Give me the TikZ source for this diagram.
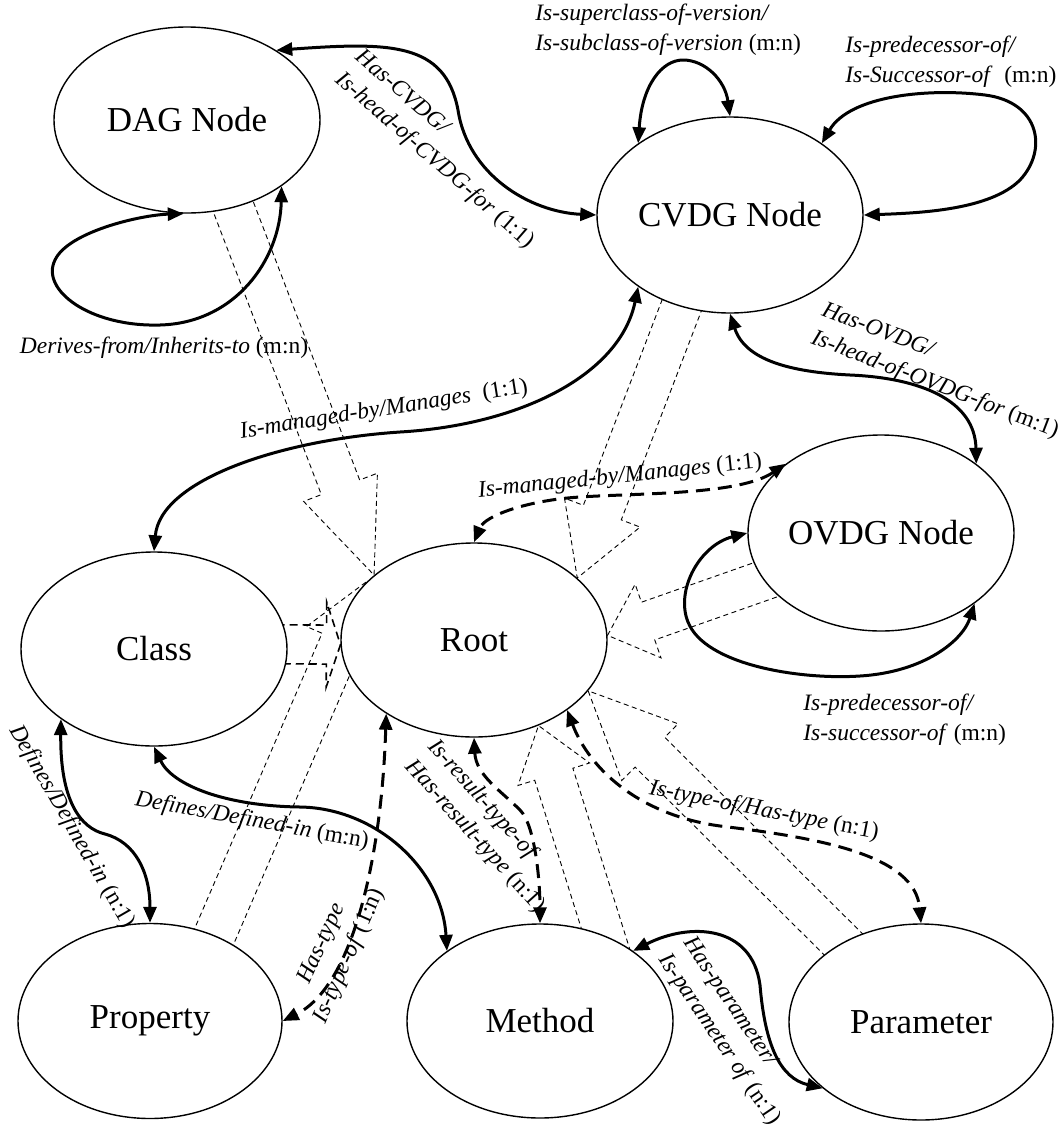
\documentclass[tikz,border=0pt]{standalone}
\usepackage{fontspec}
\setmainfont{Liberation Serif}
\usetikzlibrary{shapes.geometric,arrows.meta,calc,backgrounds}

\tikzset{
  entity/.style={ellipse,draw,line width=0.7pt,fill=white,inner sep=0pt,
    minimum width=133pt,minimum height=97pt,font=\fontsize{17.5}{21}\selectfont},
  rel/.style={line width=1.5pt,
    {Triangle[length=8pt,width=6.5pt]}-{Triangle[length=8pt,width=6.5pt]}},
  reldash/.style={rel,dash pattern=on 7pt off 4pt},
  lbl/.style={font=\fontsize{11.75}{15}\selectfont,inner sep=0pt},
  inherit/.style={draw,line width=0.45pt,dash pattern=on 2.5pt off 1.8pt,line join=miter},
}

% hollow block arrow: [extra style]{base anchor}{tip anchor}{shaft half width}{head half width}{head length}
\newcommand\inhArrow[6][]{%
  \coordinate (ia-s) at (#2);
  \coordinate (ia-t) at (#3);
  \coordinate (ia-b) at ($(ia-t)!#6!(ia-s)$);
  \coordinate (ia-o) at ($(ia-s)!-12pt!(ia-t)$);
  \draw[inherit,#1] ($(ia-o)!#4!90:(ia-t)$) -- ($(ia-b)!#4!90:(ia-t)$)
    -- ($(ia-b)!#5!90:(ia-t)$) -- (ia-t) -- ($(ia-b)!#5!-90:(ia-t)$)
    -- ($(ia-b)!#4!-90:(ia-t)$) -- ($(ia-o)!#4!-90:(ia-t)$) -- cycle;
}

\begin{document}
\begin{tikzpicture}[x=0.5pt,y=-0.5pt]
\useasboundingbox (0,0) rectangle (1063,1131);

% entities
\node[entity,minimum height=93pt] (dag) at (187,120) {DAG Node};
\node[entity,minimum height=98pt] (cvdg) at (730,215) {CVDG Node};
\node[entity,minimum height=98pt] (ovdg) at (881,533) {OVDG Node};
\node[entity] (class) at (154,649) {Class};
\node[entity] (root) at (474,640) {Root};
\node[entity,minimum width=132pt,minimum height=97.5pt] (property) at (150,1021) {Property};
\node[entity] (method) at (540,1021) {Method};
\node[entity,minimum width=132pt,minimum height=98pt] (parameter) at (921,1022) {Parameter};

% inheritance block arrows towards Root
\begin{pgfonlayer}{background}
\fill[white] (0,0) rectangle (1063,1131);
\inhArrow{dag.-62}{root.147}{10.25pt}{19.75pt}{47pt}
\inhArrow{cvdg.-118}{root.31}{10.15pt}{20.25pt}{35pt}
\inhArrow{ovdg.202}{root.2}{10pt}{19.5pt}{21.5pt}
\inhArrow[line width=0.8pt,dash pattern=on 4pt off 2.5pt]{class.2}{root.182}{9.75pt}{21.25pt}{7pt}
\inhArrow{property.53}{root.151}{10.5pt}{19pt}{33pt}
\inhArrow{method.53}{root.-53}{10pt}{18.75pt}{25.5pt}
\inhArrow{parameter.135}{root.-24}{10.5pt}{20pt}{43.5pt}
\end{pgfonlayer}

% relationships
\draw[rel] (dag.38) .. controls (390,42) and (445,42) .. (458,110)
  .. controls (468,175) and (530,212) .. (cvdg.west);
\draw[rel] (dag.-35) .. controls (280,260) and (235,323) .. (160,325)
  .. controls (90,327) and (40,290) .. (55,260)
  .. controls (68,232) and (140,215) .. (dag.-92);
\draw[rel] (cvdg.142) .. controls (642,85) and (662,60) .. (683,60)
  .. controls (705,60) and (725,80) .. (cvdg.north);
\draw[rel] (cvdg.38) .. controls (850,95) and (930,88) .. (985,95)
  .. controls (1040,102) and (1048,150) .. (1020,180)
  .. controls (990,210) and (920,213) .. (cvdg.east);
\draw[rel] (cvdg.218) .. controls (620,375) and (520,425) .. (400,432)
  .. controls (280,440) and (160,480) .. (class.north);
\draw[reldash] (ovdg.144) .. controls (740,495) and (640,493) .. (580,497)
  .. controls (530,500) and (485,515) .. (root.north);
\draw[rel] (cvdg.south) .. controls (745,360) and (790,372) .. (850,375)
  .. controls (920,378) and (975,400) .. (ovdg.36);
\draw[rel] (ovdg.west) .. controls (700,545) and (675,590) .. (688,622)
  .. controls (705,665) and (800,680) .. (860,676)
  .. controls (925,672) and (963,640) .. (ovdg.-37);
\draw[rel] (class.217) .. controls (60,800) and (80,828) .. (105,834)
  .. controls (135,842) and (150,872) .. (property.north);
\draw[rel] (class.south) .. controls (172,785) and (225,806) .. (300,807)
  .. controls (375,808) and (442,868) .. (method.143);
\draw[reldash] (root.-140) .. controls (382,850) and (355,985) .. (property.east);
\draw[reldash] (root.south) .. controls (476,775) and (500,790) .. (520,810)
  .. controls (535,825) and (540,880) .. (method.north);
\draw[reldash] (root.-37) .. controls (590,770) and (640,815) .. (720,826)
  .. controls (820,838) and (915,855) .. (parameter.north);
\draw[rel] (method.37) .. controls (690,922) and (752,925) .. (760,985)
  .. controls (765,1045) and (780,1078) .. (parameter.214);

% relationship labels
\node[lbl,rotate=-41,anchor=west,align=left] (l-hascvdg) at (348,66)
  {\textit{Has-CVDG/}\\\textit{Is-head-of-CVDG-for} (1:1)};
\node[lbl] (l-derives) at (164,348) {\textit{Derives-from/Inherits-to} (m:n)};
\node[lbl,anchor=west,align=left] (l-super) at (535,30)
  {\textit{Is-superclass-of-version/}\\\textit{Is-subclass-of-version} (m:n)};
\node[lbl,anchor=west,align=left] (l-cvdgpred) at (845,62)
  {\textit{Is-predecessor-of/}\\\textit{Is-Successor-of}\ \ (m:n)};
\node[lbl,rotate=9] (l-mgd1) at (384,410) {\textit{Is-managed-by/Manages}\ \ (1:1)};
\node[lbl,rotate=6] (l-mgd2) at (620,477) {\textit{Is-managed-by/Manages} (1:1)};
\node[lbl,rotate=-21,anchor=west,align=left] (l-hasovdg) at (817,324)
  {\textit{Has-OVDG/}\\\textit{Is-head-of-OVDG-for} (m:1)};
\node[lbl,anchor=west,align=left] (l-ovdgpred) at (803,720)
  {\textit{Is-predecessor-of/}\\\textit{Is-successor-of} (m:n)};
\node[lbl,rotate=-60] (l-defprop) at (72,827) {\textit{Defines/Defined-in} (n:1)};
\node[lbl,rotate=-10.5] (l-defmeth) at (252,821) {\textit{Defines/Defined-in} (m:n)};
\node[lbl,rotate=66,align=center] (l-hastype) at (336,950)
  {\textit{Has-type}\\\textit{Is-type-of} (1:n)};
\node[lbl,rotate=-48,anchor=west,align=left] (l-result) at (420,753)
  {\textit{Is-result-type-of}\\\textit{Has-result-type} (n:1)};
\node[lbl,rotate=-11] (l-typeof) at (764,811) {\textit{Is-type-of/Has-type} (n:1)};
\node[lbl,rotate=-56,anchor=west,align=left] (l-param) at (675,948)
  {\textit{Has-parameter/}\\\textit{Is-parameter of} (n:1)};
\end{tikzpicture}
\end{document}
